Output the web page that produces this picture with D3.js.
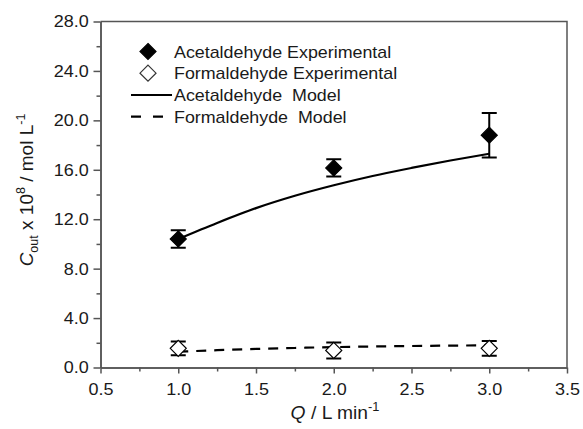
<!DOCTYPE html>
<html>
<head>
<meta charset="utf-8">
<script src="https://cdn.jsdelivr.net/npm/d3@7"></script>
<style>
  body { margin: 0; background: #fff; }
  text { font-family: "Liberation Sans", Arial, sans-serif; fill: #1a1a1a; white-space: pre; }
</style>
</head>
<body>
<div id="chart"></div>
<script>
// data
let flows = [1.0, 2.0, 3.0];
let acetExp = [10.4, 16.15, 18.8];
let acetErr = [0.7, 0.7, 1.8];
let formExp = [1.55, 1.38, 1.55];
let formErr = [0.55, 0.65, 0.6];
let modelQ = [1.0, 1.25, 1.5, 1.75, 2.0, 2.25, 2.5, 2.75, 3.0];
let acetModel = [10.4, 11.7, 12.9, 13.9, 14.75, 15.5, 16.15, 16.75, 17.3];
let formModel = [1.28, 1.4, 1.5, 1.58, 1.65, 1.7, 1.74, 1.77, 1.8];
let xTicks = [0.5, 1.0, 1.5, 2.0, 2.5, 3.0, 3.5];
let xMinor = [0.75, 1.25, 1.75, 2.25, 2.75, 3.25];
let yTicks = [0, 4, 8, 12, 16, 20, 24, 28];
let yMinor = [2, 6, 10, 14, 18, 22, 26];
let legendNames = ["Acetaldehyde Experimental", "Formaldehyde Experimental",
                   "Acetaldehyde  Model", "Formaldehyde  Model"];

let margin = { top: 21.5, right: 16, bottom: 61.5, left: 100.5 },
    W = 583, H = 429,
    width = W - margin.left - margin.right,
    height = H - margin.top - margin.bottom,
    axisColor = "#555";

let svg = d3.select("#chart").append("svg")
    .attr("width", W)
    .attr("height", H);

let g = svg.append("g")
    .attr("transform", "translate(" + margin.left + "," + margin.top + ")");

let x = d3.scaleLinear().domain([0.5, 3.5]).range([0, width]);
let y = d3.scaleLinear().domain([0, 28]).range([height, 0]);

// frame (top + right)
g.append("path")
    .attr("d", "M0,0H" + width + "V" + height)
    .attr("fill", "none")
    .attr("stroke", axisColor)
    .attr("stroke-width", 1.5);

// axes
let xAxis = g.append("g")
    .attr("transform", "translate(0," + height + ")")
    .call(d3.axisBottom(x).tickValues(xTicks).tickFormat(d3.format(".1f"))
        .tickSize(6).tickSizeOuter(0).tickPadding(9));
let xMinorAxis = g.append("g")
    .attr("transform", "translate(0," + height + ")")
    .call(d3.axisBottom(x).tickValues(xMinor).tickFormat("").tickSize(4).tickSizeOuter(0));

let yAxis = g.append("g")
    .call(d3.axisLeft(y).tickValues(yTicks).tickFormat(d3.format(".1f"))
        .tickSize(7).tickSizeOuter(0).tickPadding(4));
let yMinorAxis = g.append("g")
    .call(d3.axisLeft(y).tickValues(yMinor).tickFormat("").tickSize(4).tickSizeOuter(0));

g.selectAll(".domain, .tick line")
    .attr("stroke", axisColor)
    .attr("stroke-width", 1.5);
g.selectAll(".tick text")
    .attr("fill", "#1a1a1a")
    .style("font-size", "17px")
    .attr("transform", "scale(1.06,1)");

// axis titles
let yTitle = svg.append("text")
    .attr("transform", "translate(33,190) rotate(-90)")
    .attr("text-anchor", "middle")
    .style("font-size", "19px");
yTitle.append("tspan").style("font-style", "italic").text("C");
yTitle.append("tspan").attr("dy", 5).style("font-size", "12.5px").text("out");
yTitle.append("tspan").attr("dy", -5).text(" x 10");
yTitle.append("tspan").attr("dy", -8).style("font-size", "12.5px").text("8");
yTitle.append("tspan").attr("dy", 8).text(" / mol L");
yTitle.append("tspan").attr("dy", -8).style("font-size", "12.5px").text("-1");

let xTitle = svg.append("text")
    .attr("transform", "translate(335,419) scale(1.07,1)")
    .attr("text-anchor", "middle")
    .style("font-size", "18px");
xTitle.append("tspan").style("font-style", "italic").text("Q");
xTitle.append("tspan").text(" / L min");
xTitle.append("tspan").attr("dy", -8).style("font-size", "12px").text("-1");

// model lines
let modelLine = d3.line()
    .x(function (d, i) { return x(modelQ[i]); })
    .y(function (d) { return y(d); })
    .curve(d3.curveMonotoneX);

g.append("path")
    .datum(acetModel)
    .attr("d", modelLine)
    .attr("fill", "none")
    .attr("stroke", "#000")
    .attr("stroke-width", 2.2);

g.append("path")
    .datum(formModel)
    .attr("d", modelLine)
    .attr("fill", "none")
    .attr("stroke", "#000")
    .attr("stroke-width", 2.2)
    .attr("stroke-dasharray", "10,8");

// diamond symbol
let diamond = "M0,-8L8,0L0,8L-8,0Z";

function drawSeries(vals, errs, fill) {
    let pts = g.append("g").selectAll("g")
        .data(vals)
        .enter().append("g")
        .attr("transform", function (d, i) { return "translate(" + x(flows[i]) + "," + y(d) + ")"; });

    pts.append("path")
        .attr("d", function (d, i) {
            let top = y(d + errs[i]) - y(d), bot = y(d - errs[i]) - y(d);
            return "M0," + top + "V" + bot + "M-7.5," + top + "H7.5M-7.5," + bot + "H7.5";
        })
        .attr("stroke", "#000")
        .attr("stroke-width", 2);

    pts.append("path")
        .attr("d", diamond)
        .attr("fill", fill)
        .attr("stroke", "#000")
        .attr("stroke-width", 1.2);
}

drawSeries(acetExp, acetErr, "#000");
drawSeries(formExp, formErr, "#fff");

// legend
let legend = svg.append("g");
let legendY = [51.5, 73.2, 95, 116.7];

legend.selectAll("text")
    .data(legendNames)
    .enter().append("text")
    .attr("transform", function (d, i) { return "translate(174," + (legendY[i] + 6) + ") scale(1.05,1)"; })
    .style("font-size", "17px")
    .text(function (d) { return d; });

legend.append("path")
    .attr("d", diamond)
    .attr("transform", "translate(148," + legendY[0] + ")")
    .attr("fill", "#000").attr("stroke", "#000").attr("stroke-width", 1.2);
legend.append("path")
    .attr("d", diamond)
    .attr("transform", "translate(148," + legendY[1] + ")")
    .attr("fill", "#fff").attr("stroke", "#333").attr("stroke-width", 1.2);
legend.append("line")
    .attr("x1", 131).attr("x2", 172).attr("y1", legendY[2]).attr("y2", legendY[2])
    .attr("stroke", "#000").attr("stroke-width", 2.2);
legend.append("line")
    .attr("x1", 131).attr("x2", 172).attr("y1", legendY[3]).attr("y2", legendY[3])
    .attr("stroke", "#000").attr("stroke-width", 2.2)
    .attr("stroke-dasharray", "10,12");
</script>
</body>
</html>
